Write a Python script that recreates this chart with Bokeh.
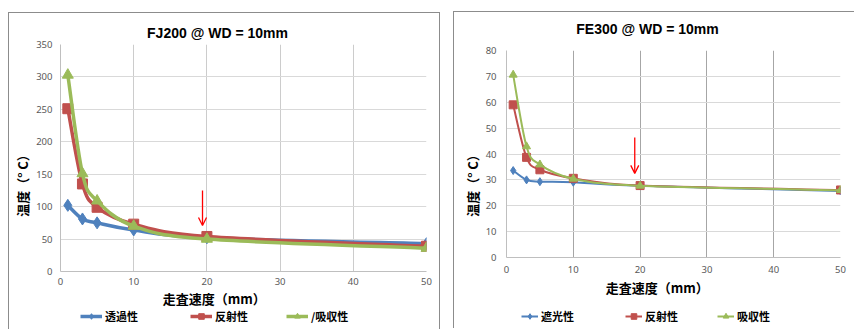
import math
from bokeh.plotting import figure
from bokeh.models import (Range1d, FixedTicker, Legend, LegendItem, Arrow, OpenHead,
                          Label)
from bokeh.embed import file_html
from bokeh.resources import INLINE

# ---------------- data ----------------
speed = [1, 3, 5, 10, 20, 50]
x_ticks = [0, 10, 20, 30, 40, 50]

fj_title = "FJ200 @ WD = 10mm"
fj_names = ["透過性", "反射性", "/吸収性"]
fj_trans = [102, 81, 75, 64, 52, 43]
fj_refl = [251, 135, 99, 73, 54, 39]
fj_abs = [303, 151, 109, 70, 50, 36]
fj_y_ticks = [0, 50, 100, 150, 200, 250, 300, 350]

fe_title = "FE300 @ WD = 10mm"
fe_names = ["遮光性", "反射性", "吸収性"]
fe_shade = [33.6, 30.0, 29.3, 29.1, 27.7, 25.7]
fe_refl = [59.0, 38.7, 33.9, 30.6, 27.8, 26.1]
fe_abs = [70.6, 42.9, 35.9, 30.4, 27.7, 26.0]
fe_y_ticks = [0, 10, 20, 30, 40, 50, 60, 70, 80]

x_title = "走査速度（mm）"
y_title = "温度（° C）"

BLUE, RED, GREEN = "#4F81BD", "#C0504D", "#9BBB59"
MARKERS = ["diamond", "square", "triangle"]
COLORS = [BLUE, RED, GREEN]
JP = "Noto Sans CJK JP"
SP = "\u3000"  # ideographic space, used to shift the centred x-axis title


def smooth(xs, ys):
    """Bezier control points (Excel-style smoothing) between consecutive data points."""
    n = len(xs)
    out = dict(x0=[], y0=[], x1=[], y1=[], cx0=[], cy0=[], cx1=[], cy1=[])
    for i in range(n - 1):
        a = max(i - 1, 0)
        b = min(i + 2, n - 1)
        out["x0"].append(xs[i]); out["y0"].append(ys[i])
        out["x1"].append(xs[i + 1]); out["y1"].append(ys[i + 1])
        out["cx0"].append(xs[i] + (xs[i + 1] - xs[a]) / 6)
        out["cy0"].append(ys[i] + (ys[i + 1] - ys[a]) / 6)
        out["cx1"].append(xs[i + 1] - (xs[b] - xs[i]) / 6)
        out["cy1"].append(ys[i + 1] - (ys[b] - ys[i]) / 6)
    return out


def make_chart(cfg, ymax, yticks, series):
    p = figure(frame_width=cfg["fw"], frame_height=cfg["fh"], x_range=Range1d(0, 50),
               y_range=Range1d(0, ymax), output_backend="svg",
               toolbar_location=None, min_border_left=cfg["mb"][0],
               min_border_right=cfg["mb"][1], min_border_top=cfg["mb"][2],
               min_border_bottom=cfg["mb"][3])
    p.outline_line_color = None
    p.styles = cfg["styles"]

    p.xaxis.ticker = FixedTicker(ticks=x_ticks)
    p.yaxis.ticker = FixedTicker(ticks=yticks)
    p.xaxis.axis_label = x_title + SP * cfg["x_pad"]
    for ax, so in ((p.xaxis, cfg["so_x"]), (p.yaxis, cfg["so_y"])):
        ax.major_tick_out = 0
        ax.major_tick_in = 0
        ax.minor_tick_out = 0
        ax.minor_tick_in = 0
        ax.axis_line_color = "#bfbfbf"
        ax.major_label_text_color = "#595959"
        ax.major_label_text_font = "Noto Sans"
        ax.major_label_text_font_size = "9.5px"
        ax.major_label_standoff = so
    p.xaxis.axis_label_standoff = cfg["lso_x"]
    p.xaxis.axis_label_text_font = JP
    p.xaxis.axis_label_text_font_size = "13px"
    p.xaxis.axis_label_text_font_style = "bold"
    p.xaxis.axis_label_text_color = "black"
    p.xgrid.ticker = FixedTicker(ticks=x_ticks)
    p.ygrid.ticker = FixedTicker(ticks=yticks)
    p.xgrid.grid_line_color = cfg["vgrid"]
    p.ygrid.grid_line_color = "#d9d9d9"

    for ys, mk, col, ms in zip(series, MARKERS, COLORS, cfg["msizes"]):
        p.bezier(source=smooth(speed, ys), x0="x0", y0="y0", x1="x1", y1="y1",
                 cx0="cx0", cy0="cy0", cx1="cx1", cy1="cy1",
                 line_color=col, line_width=cfg["lw"])
        p.scatter(speed, ys, marker=mk, size=ms, fill_color=col, line_color=col)

    a = cfg["arrow"]
    p.add_layout(Arrow(x_start=a[0], y_start=a[1], x_end=a[0], y_end=a[2],
                       line_color="red", line_width=1.3,
                       end=OpenHead(size=8, line_color="red", line_width=1.3)))
    return p


def strip(w, h, left, top, rng=(0, 1)):
    """Transparent frame-only figure used as a positioned text / legend layer."""
    q = figure(width=w, height=h, x_range=Range1d(*rng), y_range=Range1d(*rng),
               x_axis_type=None, y_axis_type=None, output_backend="svg",
               toolbar_location=None, min_border=0,
               background_fill_color=None, border_fill_color=None,
               outline_line_color=None)
    q.styles = {"position": "absolute", "left": f"{left}px", "top": f"{top}px"}
    return q


def text_strip(w, h, left, top, text, size, font, angle=0.0):
    q = strip(w, h, left, top)
    q.add_layout(Label(x=0.5, y=0.5, text=text, angle=angle, text_align="center",
                       text_baseline="middle", text_font=font,
                       text_font_size=size, text_font_style="bold",
                       text_color="black"))
    return q


def make_legend(cfg, series, names):
    """Legend strip; its entries use the same series, drawn outside its visible
    range so that only the legend swatches show."""
    q = strip(cfg["w"], 20, cfg["left"], cfg["top"], rng=(1000, 1001))
    for ys, name, mk, col, lx in zip(series, names, MARKERS, COLORS, cfg["item_x"]):
        ln = q.line(speed, ys, line_color=col, line_width=cfg["lw"])
        sc = q.scatter(speed, ys, marker=mk, fill_color=col, line_color=col)
        q.add_layout(Legend(items=[LegendItem(label=name, renderers=[ln, sc])],
                            location=(lx, 3), orientation="horizontal",
                            padding=0, margin=0, spacing=0,
                            glyph_width=cfg["glyph_w"], glyph_height=14,
                            label_standoff=3, label_height=14,
                            border_line_color=None, background_fill_alpha=0,
                            label_text_font=JP, label_text_font_size="11px",
                            label_text_font_style="bold",
                            label_text_color="black"))
    return q


box = "1px solid #8c8c8c"
cfg1 = dict(fw=366, fh=227, mb=(51, 13, 31, 58), lw=3.5, msizes=[12, 10, 11],
            vgrid="#cccccc", so_x=6, lso_x=1, so_y=8, x_pad=5,
            arrow=(19.4, 125, 71),
            styles={"position": "absolute", "left": "8px", "top": "12px",
                    "border-top": box, "border-left": box, "border-right": box})
cfg2 = dict(fw=334, fh=207, mb=(52, 14, 38, 71), lw=2, msizes=[8, 8, 8],
            vgrid="#a6a6a6", so_x=8, lso_x=2, so_y=10, x_pad=3,
            arrow=(19.2, 46.4, 32.5),
            styles={"position": "absolute", "left": "453px", "top": "11px",
                    "border-top": box, "border-left": box})
leg1 = dict(w=300, lw=3.5, glyph_w=22, item_x=[0, 110, 206], left=80, top=307)
leg2 = dict(w=260, lw=2, glyph_w=17, item_x=[0, 104, 196], left=521, top=307)

fj_series = [fj_trans, fj_refl, fj_abs]
fe_series = [fe_shade, fe_refl, fe_abs]
p1 = make_chart(cfg1, 350, fj_y_ticks, fj_series)
p2 = make_chart(cfg2, 80, fe_y_ticks, fe_series)
l1 = make_legend(leg1, fj_series, fj_names)
l2 = make_legend(leg2, fe_series, fe_names)
t1 = text_strip(200, 20, 117, 22, fj_title, "14px", "Liberation Sans")
t2 = text_strip(200, 20, 547, 18, fe_title, "14px", "Liberation Sans")
y1 = text_strip(20, 84, 12, 140, y_title, "13px", JP, math.pi / 2)
y2 = text_strip(20, 84, 462, 140, y_title, "13px", JP, math.pi / 2)

open("out.html", "w").write(file_html([p1, p2, l1, l2, t1, t2, y1, y2], INLINE))
